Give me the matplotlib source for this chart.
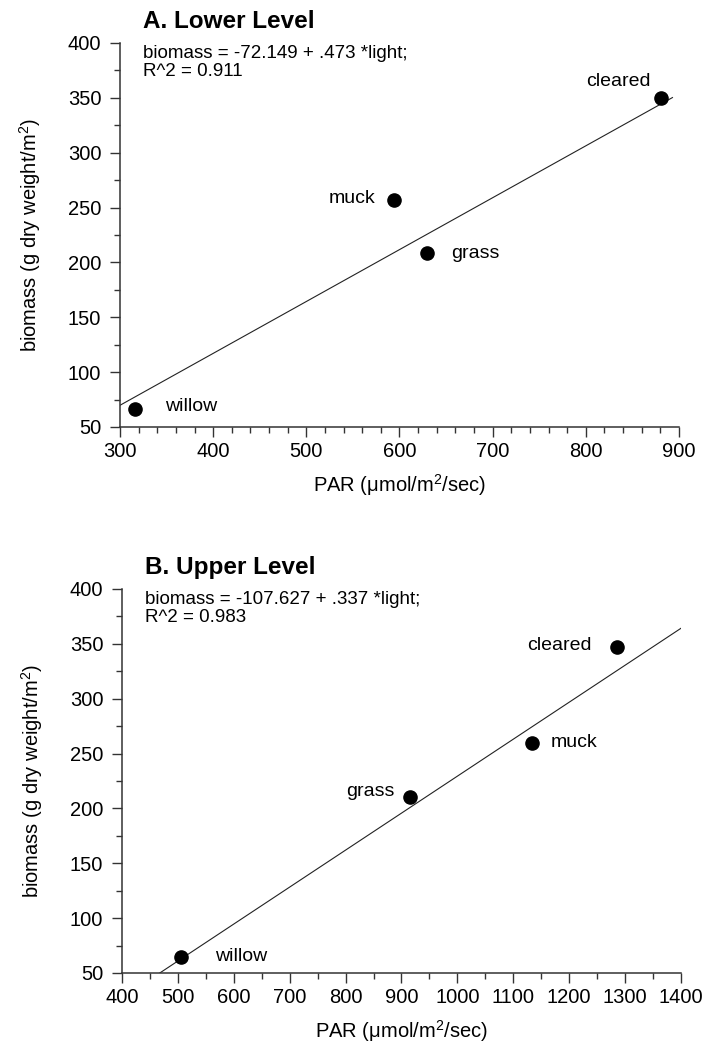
import matplotlib.pyplot as plt
import numpy as np
from matplotlib.ticker import MultipleLocator

plt.rcParams['font.family'] = ['Liberation Sans', 'DejaVu Sans']
plt.rcParams['mathtext.fontset'] = 'custom'
plt.rcParams['mathtext.rm'] = 'Liberation Sans'
plt.rcParams['mathtext.it'] = 'Liberation Sans'

sites = ['willow', 'muck', 'grass', 'cleared']

# A. lower level
lower_par = [316, 594, 630, 881]
lower_biomass = [66, 257, 209, 350]
lower_fit = (-72.149, 0.473)
lower_r2 = 0.911
lower_line_x = [300, 893]

# B. upper level
upper_par = [505, 1134, 915, 1285]
upper_biomass = [65, 260, 210, 347]
upper_fit = (-107.627, 0.337)
upper_r2 = 0.983
upper_line_x = [400, 1400]

# label offsets (points) per site, per panel
lower_offsets = {'willow': (22, 2, 'left'), 'muck': (-13, 1, 'right'),
                 'grass': (17, -1, 'left'), 'cleared': (-8, 12, 'right')}
upper_offsets = {'willow': (25, 0, 'left'), 'muck': (13, 0, 'left'),
                 'grass': (-11, 4, 'right'), 'cleared': (-18, 1, 'right')}


def panel(ax, par, biomass, fit, r2, xlim, xline, xmaj, xmin, title, offsets):
    b0, b1 = fit
    xs = np.array(xline)
    ax.plot(xs, b0 + b1 * xs, color='#222222', lw=0.8, zorder=1)
    ax.scatter(par, biomass, s=90, color='black', zorder=3, clip_on=False)
    for name, x, y in zip(sites, par, biomass):
        dx, dy, ha = offsets[name]
        ax.annotate(name, (x, y), xytext=(dx, dy), textcoords='offset points',
                    ha=ha, va='center', fontsize=14)
    ax.set_xlim(*xlim)
    ax.set_ylim(50, 400)
    ax.xaxis.set_major_locator(MultipleLocator(xmaj))
    ax.xaxis.set_minor_locator(MultipleLocator(xmin))
    ax.yaxis.set_major_locator(MultipleLocator(50))
    ax.yaxis.set_minor_locator(MultipleLocator(25))
    ax.spines['top'].set_visible(False)
    ax.spines['right'].set_visible(False)
    for s in ['left', 'bottom']:
        ax.spines[s].set_linewidth(1.1)
        ax.spines[s].set_color('#333333')
    ax.tick_params(which='major', length=7.5, width=1, labelsize=14.5,
                   color='#333333')
    ax.tick_params(which='minor', length=4.5, width=1, color='#333333')
    ax.tick_params(axis='y', which='major', pad=6)
    ax.set_xlabel('PAR ($\\mu$mol/m$^2$/sec)', fontsize=14.5, labelpad=8)
    ax.set_ylabel('biomass (g dry weight/m$^2$)', fontsize=14.5, labelpad=18)
    ax.text(0.041, 1.039, title, transform=ax.transAxes, fontsize=17.5,
            fontweight='bold', va='baseline', ha='left')
    ax.text(0.041, 0.995, 'biomass = %s + %s *light;\nR^2 = %.3f'
            % (('%.3f' % b0), ('%.3f' % b1).lstrip('0'), r2),
            transform=ax.transAxes, fontsize=13.5, va='top', ha='left',
            linespacing=1.05)


fig = plt.figure(figsize=(7.05, 10.48), dpi=100)
fig.patch.set_facecolor('white')
ax1 = fig.add_axes([0.1702, 0.5926, 0.7929, 0.3664])
ax2 = fig.add_axes([0.1730, 0.0716, 0.7929, 0.3664])

panel(ax1, lower_par, lower_biomass, lower_fit, lower_r2, (300, 900),
      lower_line_x, 100, 20, 'A. Lower Level', lower_offsets)
panel(ax2, upper_par, upper_biomass, upper_fit, upper_r2, (400, 1400),
      upper_line_x, 100, 50, 'B. Upper Level', upper_offsets)

fig.savefig('out.png', dpi=100)
